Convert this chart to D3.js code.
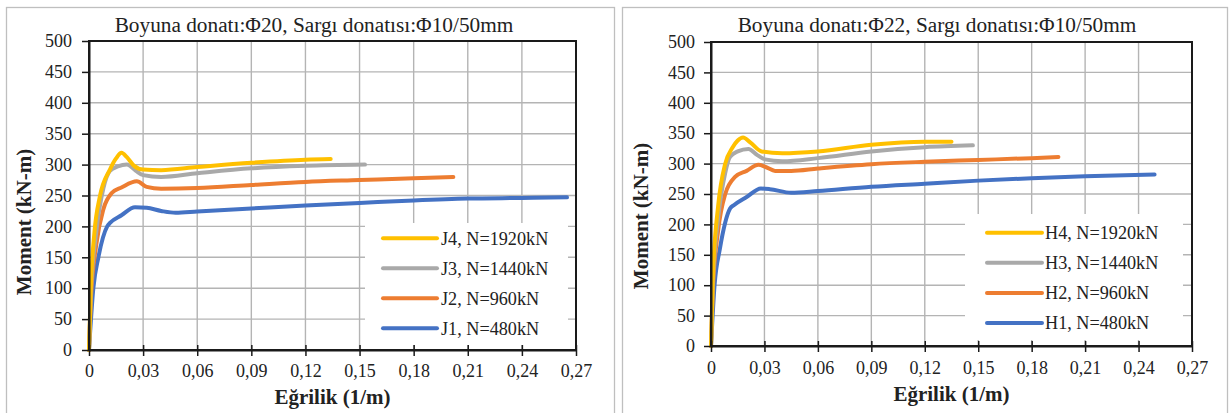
<!DOCTYPE html>
<html>
<head>
<meta charset="utf-8">
<script src="https://cdn.jsdelivr.net/npm/d3@7/dist/d3.min.js"></script>
<style>
  html, body { margin: 0; padding: 0; background: #fff; }
  svg { display: block; font-family: "Liberation Serif", "Times New Roman", serif; }
</style>
</head>
<body>
<svg id="chart" width="1229" height="413"></svg>
<script>
// ---------- data ----------
const xTicks = [0, 0.03, 0.06, 0.09, 0.12, 0.15, 0.18, 0.21, 0.24, 0.27];
const xTickLabels = ["0", "0,03", "0,06", "0,09", "0,12", "0,15", "0,18", "0,21", "0,24", "0,27"];
const yTicks = [0, 50, 100, 150, 200, 250, 300, 350, 400, 450, 500];

const titleLeft = "Boyuna donatı:Φ20, Sargı donatısı:Φ10/50mm";
const titleRight = "Boyuna donatı:Φ22, Sargı donatısı:Φ10/50mm";
const xTitle = "Eğrilik (1/m)";
const yTitle = "Moment (kN-m)";

const namesLeft = ["J4, N=1920kN", "J3, N=1440kN", "J2, N=960kN", "J1, N=480kN"];
const namesRight = ["H4, N=1920kN", "H3, N=1440kN", "H2, N=960kN", "H1, N=480kN"];
const seriesColors = ["#FFC000", "#A9A9A9", "#ED7D31", "#4472C4"];

// [curvature (1/m), moment (kN-m)]
const J4 = [[0,0],[0.001,100],[0.003,190],[0.006,248],[0.0116,292],[0.015,310],[0.018,319],[0.021,312],[0.025,298],[0.03,292],[0.04,291],[0.06,296],[0.09,303],[0.12,308],[0.134,309]];
const J3 = [[0,0],[0.001,90],[0.004,190],[0.008,262],[0.0116,290],[0.016,297],[0.021,300],[0.026,290],[0.03,283],[0.04,280],[0.06,286],[0.09,294],[0.12,298],[0.153,300]];
const J2 = [[0,0],[0.001,80],[0.004,170],[0.008,228],[0.0126,254],[0.018,263],[0.0265,273],[0.032,264],[0.04,261],[0.06,262],[0.09,267],[0.12,272],[0.15,275],[0.18,278],[0.202,280]];
const J1 = [[0,0],[0.0024,100],[0.0052,150],[0.0101,200],[0.0118,206],[0.018,218],[0.0255,231],[0.032,230],[0.04,225],[0.048,222],[0.06,224],[0.09,229],[0.12,234],[0.15,238],[0.18,242],[0.21,245],[0.24,246],[0.265,247]];

const H4 = [[0,0],[0.001,110],[0.004,230],[0.008,300],[0.012,326],[0.015,338],[0.018,343],[0.022,335],[0.0284,320],[0.04,317],[0.06,320],[0.09,331],[0.12,336],[0.135,336]];
const H3 = [[0,0],[0.001,100],[0.004,210],[0.008,285],[0.0107,311],[0.015,320],[0.021,324],[0.026,314],[0.0303,307],[0.04,304],[0.06,309],[0.09,320],[0.12,327],[0.147,330]];
const H2 = [[0,0],[0.001,90],[0.004,190],[0.008,250],[0.0135,278],[0.02,288],[0.0266,298],[0.031,294],[0.036,288],[0.045,288],[0.06,292],[0.09,299],[0.12,303],[0.15,306],[0.18,309],[0.195,311]];
const H1 = [[0,0],[0.002,100],[0.005,160],[0.0107,226],[0.013,232],[0.02,245],[0.028,259],[0.033,258],[0.045,252],[0.06,255],[0.09,262],[0.12,267],[0.15,272],[0.18,276],[0.21,279],[0.249,282]];

// ---------- drawing ----------
const svg = d3.select("#chart");
svg.append("rect").attr("width", 1229).attr("height", 413).attr("fill", "#fff");

function drawChart(cfg) {
  const g = svg.append("g");
  // outer frame
  g.append("rect")
    .attr("x", cfg.frame[0] + 0.5).attr("y", cfg.frame[1] + 0.5)
    .attr("width", cfg.frame[2] - cfg.frame[0]).attr("height", 450)
    .attr("fill", "#fff").attr("stroke", "#BFBFBF").attr("stroke-width", 1.3);

  const x = d3.scaleLinear().domain([0, 0.27]).range([cfg.left, cfg.right]);
  const y = d3.scaleLinear().domain([0, 500]).range([cfg.bottom, cfg.top]);

  // gridlines
  g.append("g").selectAll("line").data(xTicks.slice(1)).join("line")
    .attr("x1", d => x(d)).attr("x2", d => x(d))
    .attr("y1", cfg.top).attr("y2", cfg.bottom)
    .attr("stroke", "#B4B4B4").attr("stroke-width", 1.4);
  g.append("g").selectAll("line").data(yTicks.slice(1)).join("line")
    .attr("x1", cfg.left).attr("x2", cfg.right)
    .attr("y1", d => y(d)).attr("y2", d => y(d))
    .attr("stroke", "#B4B4B4").attr("stroke-width", 1.4);

  // series
  const line = d3.line().x(d => x(d[0])).y(d => y(d[1])).curve(d3.curveMonotoneX);
  const order = [3, 2, 1, 0];
  order.forEach(i => {
    g.append("path").datum(cfg.series[i])
      .attr("d", line).attr("fill", "none")
      .attr("stroke", seriesColors[i]).attr("stroke-width", 4)
      .attr("stroke-linejoin", "round").attr("stroke-linecap", "round");
  });

  // legend
  const lg = g.append("g");
  lg.append("rect")
    .attr("x", cfg.legend.x0).attr("y", cfg.legend.y0)
    .attr("width", cfg.legend.x1 - cfg.legend.x0).attr("height", cfg.legend.y1 - cfg.legend.y0)
    .attr("fill", "#fff");
  cfg.names.forEach((n, i) => {
    const yy = cfg.legend.row0 + i * cfg.legend.step;
    lg.append("line")
      .attr("x1", cfg.legend.sw0).attr("x2", cfg.legend.sw1)
      .attr("y1", yy).attr("y2", yy)
      .attr("stroke", seriesColors[i]).attr("stroke-width", 4).attr("stroke-linecap", "round");
    lg.append("text")
      .attr("x", cfg.legend.tx).attr("y", yy).attr("dy", "0.35em")
      .attr("font-size", 18.2).attr("fill", "#222")
      .text(n);
  });

  // plot border
  g.append("rect")
    .attr("x", cfg.left).attr("y", cfg.top)
    .attr("width", cfg.right - cfg.left).attr("height", cfg.bottom - cfg.top)
    .attr("fill", "none").attr("stroke", "#1a1a1a").attr("stroke-width", 2);

  // axes
  const xAxis = d3.axisBottom(x).tickValues(xTicks)
    .tickFormat((d, i) => xTickLabels[i]).tickSizeInner(6).tickSizeOuter(0);
  const gx = g.append("g").attr("transform", `translate(0,${cfg.bottom})`).call(xAxis);
  gx.select(".domain").attr("stroke", "#1a1a1a").attr("stroke-width", 2);
  gx.selectAll(".tick line").attr("stroke", "#1a1a1a").attr("stroke-width", 1.5).attr("y1", -5);
  gx.selectAll(".tick text").attr("y", cfg.xLabelDy).attr("dy", 0)
    .attr("font-size", 18).attr("fill", "#222").attr("font-family", "Liberation Serif, Times New Roman, serif");

  const yAxis = d3.axisLeft(y).tickValues(yTicks).tickSizeInner(7).tickSizeOuter(0);
  const gy = g.append("g").attr("transform", `translate(${cfg.left},0)`).call(yAxis);
  gy.select(".domain").attr("stroke", "#1a1a1a").attr("stroke-width", 2);
  gy.selectAll(".tick line").attr("stroke", "#1a1a1a").attr("stroke-width", 1.5);
  gy.selectAll(".tick text").attr("x", -cfg.yLabelGap)
    .attr("font-size", 18).attr("fill", "#222").attr("font-family", "Liberation Serif, Times New Roman, serif");

  // titles
  g.append("text").attr("x", cfg.titleX).attr("y", 32).attr("text-anchor", "middle")
    .attr("font-size", 21.3).attr("fill", "#222").text(cfg.title);
  g.append("text").attr("x", (cfg.left + cfg.right) / 2).attr("y", cfg.xTitleY)
    .attr("text-anchor", "middle").attr("font-size", 21).attr("font-weight", "bold")
    .attr("fill", "#222").text(xTitle);
  g.append("text")
    .attr("transform", `translate(${cfg.yTitleX},${cfg.yTitleY}) rotate(-90)`)
    .attr("text-anchor", "middle").attr("font-size", 21).attr("font-weight", "bold")
    .attr("fill", "#222").text(yTitle);
}

drawChart({
  frame: [6, 7, 614], left: 89, right: 576, top: 41, bottom: 350,
  series: [J4, J3, J2, J1], names: namesLeft, title: titleLeft, titleX: 314,
  xLabelDy: 27, yLabelGap: 17, xTitleY: 404, yTitleX: 31, yTitleY: 222,
  legend: { x0: 365, x1: 568, y0: 223, y1: 345, row0: 238.3, step: 30, sw0: 383, sw1: 437, tx: 441 }
});
drawChart({
  frame: [622, 7, 1227], left: 711, right: 1192, top: 42, bottom: 346,
  series: [H4, H3, H2, H1], names: namesRight, title: titleRight, titleX: 937,
  xLabelDy: 28, yLabelGap: 16, xTitleY: 401, yTitleX: 648, yTitleY: 216,
  legend: { x0: 965, x1: 1183, y0: 214, y1: 340, row0: 232.7, step: 30.1, sw0: 987, sw1: 1042, tx: 1045 }
});
</script>
</body>
</html>
